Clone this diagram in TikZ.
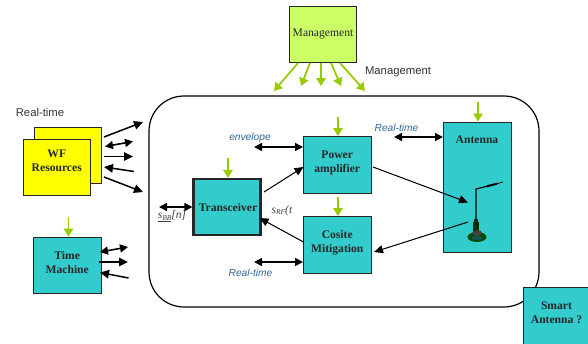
\documentclass[tikz,border=0pt]{standalone}
\usepackage{fontspec}
\setmainfont{Liberation Serif}
\newfontfamily\arialf{Liberation Sans}
\usetikzlibrary{arrows.meta,positioning}
\definecolor{tealbox}{HTML}{33CCCC}
\definecolor{yelbox}{HTML}{FFFF00}
\definecolor{mgmtbox}{HTML}{CCFF66}
\definecolor{greenarr}{HTML}{99CC00}
\definecolor{bluetxt}{HTML}{336699}
\newcommand{\subtxt}[2]{\textit{#1}\raisebox{-1.5pt}{\fontsize{7.5}{8}\selectfont\textit{#2}}}
\tikzset{
  bx/.style={draw=black!85,line width=1pt,inner sep=0pt,align=center,font=\fontsize{11.6}{14}\selectfont\bfseries,text=black!85},
  tealb/.style={bx,fill=tealbox},
  yelb/.style={bx,fill=yelbox},
  boxtxt/.style={inner sep=0pt,align=center,font=\fontsize{11.6}{14}\selectfont\bfseries,text=black!85},
  lab/.style={inner sep=0pt,font=\arialf\fontsize{11.3}{13}\selectfont,text=black!80},
  blab/.style={inner sep=0pt,font=\arialf\itshape\fontsize{10.2}{12}\selectfont,text=bluetxt},
  mlab/.style={inner sep=0pt,font=\fontsize{11.5}{13}\selectfont,text=black!75},
  gre/.style={-{Triangle[length=8pt,width=9.5pt]},draw=greenarr,fill=greenarr,line width=1.8pt},
  sgl/.style={-{Triangle[length=9pt,width=8.5pt]},line width=1.5pt,draw=black,fill=black},
  thn/.style={-{Triangle[length=9pt,width=8pt]},line width=1pt,draw=black,fill=black},
  dbl/.style={{Triangle[length=8pt,width=8pt]}-{Triangle[length=8pt,width=8pt]},line width=1.6pt,draw=black,fill=black}
}
\begin{document}
\begin{tikzpicture}[x=1pt,y=-1pt]
\useasboundingbox (0,0) rectangle (588,343);
\clip (0,0) rectangle (588,343);
\fill[white] (0,0) rectangle (588,343);
% enclosure
\node[draw=black,line width=1.2pt,rounded corners=35pt,minimum width=390pt,minimum height=211pt,inner sep=0pt] (frame) at (344,201.5) {};
% boxes
\node[bx,fill=mgmtbox,minimum width=67.5pt,minimum height=56.5pt] (mgmt) at (323,34.5) {};
\node[yelb,minimum width=67pt,minimum height=56pt] (wfback) at (67.5,155) {};
\node[yelb,minimum width=67.5pt,minimum height=56pt] (wf) at (56.75,167.5) {};
\node[tealb,minimum width=67.5pt,minimum height=56pt] (time) at (67.25,265) {};
\node[tealb,line width=2.2pt,minimum width=67pt,minimum height=56pt] (trans) at (227,207) {};
\node[tealb,minimum width=67.5pt,minimum height=56.5pt] (power) at (337.25,164.75) {};
\node[tealb,minimum width=67.5pt,minimum height=56.5pt] (cosite) at (337.25,244.75) {};
\node[tealb,minimum width=67.5pt,minimum height=130pt] (ant) at (477.25,187) {};
\node[tealb,minimum width=67pt,minimum height=60pt] (smart) at (556.5,317) {};
% box texts
\node[boxtxt,font=\fontsize{11.6}{14}\selectfont] (mgmttxt) at (323,34) {Management};
\node[boxtxt] (wftxt) at (56.75,160.5) {WF\\Resources};
\node[boxtxt] (timetxt) at (67.25,262.5) {Time\\Machine};
\node[boxtxt] (transtxt) at (228,208) {Transceiver};
\node[boxtxt] (powertxt) at (337.25,162.5) {Power\\amplifier};
\node[boxtxt] (cositetxt) at (337.25,242.5) {Cosite\\Mitigation};
\node[boxtxt] (anttxt) at (477,140) {Antenna};
\node[boxtxt] (smarttxt) at (556.5,313) {Smart\\Antenna ?};
% labels
\node[lab] (lrt) at (40,112) {Real-time};
\node[lab] (lmg) at (398,72) {Management};
\node[blab] (lenv) at (250,137.5) {envelope};
\node[blab] (lrt2) at (250.5,272.5) {Real-time};
\node[blab] (lrt3) at (396.5,127.5) {Real-time};
\node[mlab] (lsbb) at (172,216.5) {\underline{\subtxt{s}{BB}}\textit{[n]}};
\node[mlab] (lsrf) at (282,210.5) {\subtxt{s}{RF}\textit{(t}};
% free ends
\foreach \n/\x/\y in {g1/298/63,g2/310/63,g3/321/63,g4/331/63,g5/340/63,
 m1/274/91,m2/301/86,m3/321/86,m4/341/86,m5/365/91,
 gt/228/158,gp/338/117,gc/338/197,ga/478/102,gm/68.5/217,
 a1/104/137,a1e/143/122,a2/105/146.5,a2e/133/141.5,a3/104/156.5,a3e/133/156.5,a4/134/171.5,a4e/104/167,a5/104/177,a5e/143/192,
 b1/100/252,b1e/128/247,b2/99/262,b2e/128/262,b3/128.5/278,b3e/100/272.5,
 c1/159/207,d1/254/147,d2/254/262,d3/394/137,
 t1/264/192,t1e/303.5/167,t2/303.5/242,t2e/259.5/218,
 p1/373/167,p1e/468/202.5,p2/468/222,p2e/374/252}
 {\coordinate (\n) at (\x,\y);}
% green arrows
\draw[gre] (g1)--(m1);
\draw[gre] (g2)--(m2);
\draw[gre] (g3)--(m3);
\draw[gre] (g4)--(m4);
\draw[gre] (g5)--(m5);
\draw[gre] (gt)--(gt|-trans.north);
\draw[gre] (gp)--(gp|-power.north);
\draw[gre] (gc)--(gc|-cosite.north);
\draw[gre] (ga)--(ga|-ant.north);
\draw[gre] (gm)--(gm|-time.north);
% black arrows left
\draw[sgl] (a1)--(a1e);
\draw[dbl] (a2)--(a2e);
\draw[sgl] (a3)--(a3e);
\draw[sgl] (a4)--(a4e);
\draw[sgl] (a5)--(a5e);
\draw[dbl] (b1)--(b1e);
\draw[sgl] (b2)--(b2e);
\draw[sgl] (b3)--(b3e);
% inside
\draw[dbl] (c1)--(c1-|trans.west);
\draw[dbl] (d1)--(d1-|power.west);
\draw[dbl] (d2)--(d2-|cosite.west);
\draw[dbl] (d3)--(d3-|ant.west);
\draw[thn] (t1)--(t1e);
\draw[thn] (t2)--(t2e);
\draw[thn] (p1)--(p1e);
\draw[thn] (p2)--(p2e);
% antenna icon
\draw[black,line width=1.2pt] (476,220)--(476,189)--(490,185.5);
\draw[black,line width=2pt] (487,186.3)--(497,183.7);
\draw[black,line width=.8pt] (497,183.7)--(503,182);
\fill[black!85] (474,218.5) rectangle (478,222);
\fill[black!80!green] (473,222) rectangle (479,231);
\fill[black!70!green] (477,237) ellipse (9.5pt and 5pt);
\fill[black!75] (477,233) ellipse (5pt and 3pt);
\fill[black!60!tealbox] (477,238) ellipse (6pt and 2pt);
\end{tikzpicture}
\end{document}
